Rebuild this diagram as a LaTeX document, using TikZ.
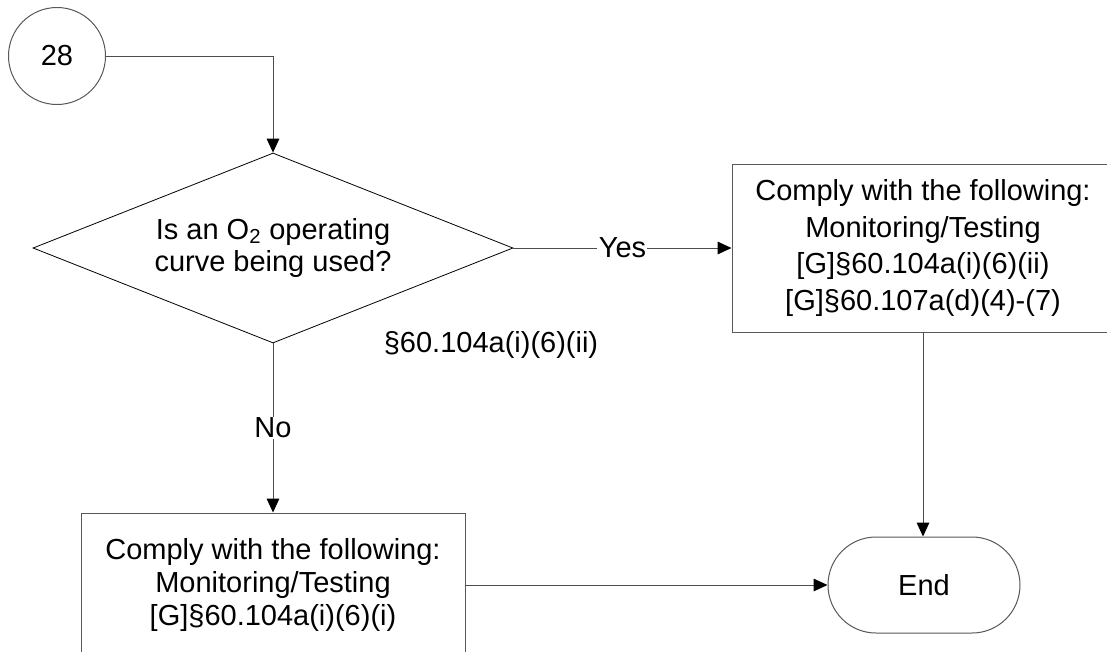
\documentclass[tikz,border=0pt]{standalone}
\usepackage{fontspec}
\setmainfont{Liberation Sans}
\usetikzlibrary{shapes.geometric,shapes.misc,arrows.meta}
\begin{document}
\begin{tikzpicture}[x=0.75pt,y=-0.75pt,
  every node/.style={font=\fontsize{21.75pt}{24.4pt}\selectfont, align=center, text=black},
  shapeline/.style={draw=black!65, line width=0.75pt},
  conn/.style={draw=black!70, line width=0.75pt, -{Triangle[length=10.5pt,width=9.5pt,color=black]}},
  lbl/.style={fill=white, inner sep=1pt}]
\clip (0,0) rectangle (1107,651);
\fill[white] (0,0) rectangle (1107,651);

\node[shapeline, circle, minimum size=72.75pt, inner sep=0pt] (c28) at (57,56) {28};
\node[draw=black, line width=0.6pt, diamond, minimum width=360pt, minimum height=142.5pt, shape aspect=2.53, inner sep=0pt] (dec) at (273,248) {Is an O\textsubscript{2} operating\\curve being used?};
\node[shapeline, rectangle, minimum width=286.5pt, minimum height=126pt, inner sep=0pt, font=\fontsize{21.75pt}{27.5pt}\selectfont] (yesbox) at (923,248) {Comply with the following:\\Monitoring/Testing\\{[G]}§60.104a(i)(6)(ii)\\{[G]}§60.107a(d)(4)-(7)};
\node[shapeline, rectangle, minimum width=288pt, minimum height=108pt, inner sep=0pt] (nobox) at (273,585) {Comply with the following:\\Monitoring/Testing\\{[G]}§60.104a(i)(6)(i)};
\node[shapeline, rounded rectangle, minimum width=144pt, minimum height=72pt, inner sep=0pt] (end) at (924,585) {End};
\node (ref) at (491,345) {§60.104a(i)(6)(ii)};

\draw[conn] (c28.east) -| (dec.north);
\draw[conn] (dec.east) -- node[lbl] (yes) {Yes} (yesbox.west);
\draw[conn] (dec.south) -- node[lbl] (no) {No} (nobox.north);
\draw[conn] (yesbox.south) -- (yesbox.south |- end.north);
\draw[conn] (nobox.east) -- (end.west);
\end{tikzpicture}
\end{document}
